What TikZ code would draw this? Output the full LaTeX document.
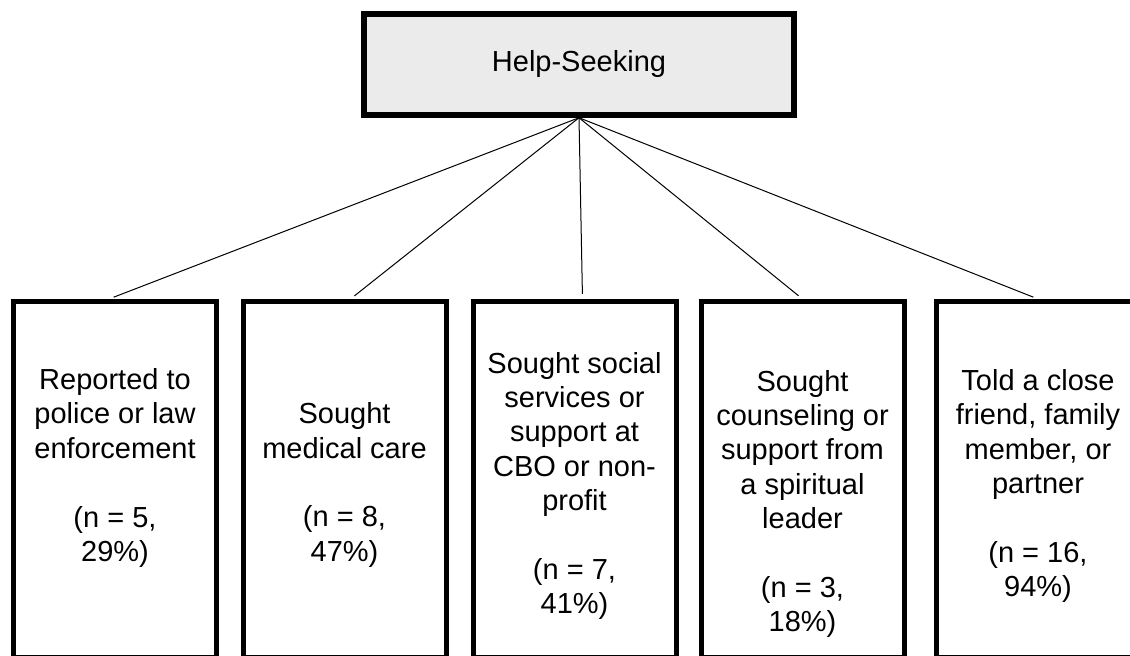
\documentclass[tikz,border=0pt]{standalone}
\usepackage{fontspec}
\setmainfont{Liberation Sans}
\tikzset{
    topbox/.style={draw=black, line width=2.75pt, fill=black!8, minimum width=215pt, minimum height=50.5pt, font=\fontsize{14.5}{17}\selectfont},
    catbox/.style={draw=black, line width=2.5pt, minimum width=101.5pt, minimum height=178.25pt},
    lbl/.style={align=center, font=\fontsize{14.5}{17.2}\selectfont, inner sep=0pt},
    link/.style={line width=0.5pt, shorten >=2.5pt}
}
\begin{document}
\begin{tikzpicture}[x=0.5pt, y=-0.5pt]
    \useasboundingbox (0,0) rectangle (1130,656);
    \node[topbox] (hs) at (579,64.5) {Help-Seeking};
    \node[catbox] (b1) at (115,479.75) {};
    \node[catbox] (b2) at (344.5,479.75) {};
    \node[catbox] (b3) at (574.5,479.75) {};
    \node[catbox] (b4) at (802.5,479.75) {};
    \node[catbox] (b5) at (1038,479.75) {};
    \node[lbl] (t1) at (115,468) {Reported to\\police or law\\enforcement\\[17.2pt](n = 5,\\29\%)};
    \node[lbl] (t2) at (344.5,485) {Sought\\medical care\\[17.2pt](n = 8,\\47\%)};
    \node[lbl] (t3) at (574.5,486) {Sought social\\services or\\support at\\CBO or non-\\profit\\[17.2pt](n = 7,\\41\%)};
    \node[lbl] (t4) at (802.5,504) {Sought\\counseling or\\support from\\a spiritual\\leader\\[17.2pt](n = 3,\\18\%)};
    \node[lbl] (t5) at (1038,486) {Told a close\\friend, family\\member, or\\partner\\[17.2pt](n = 16,\\94\%)};
    \draw[link] (hs.south) -- ([xshift=-3pt]b1.north);
    \draw[link] (hs.south) -- ([xshift=3pt]b2.north);
    \draw[link] (hs.south) -- ([xshift=4pt]b3.north);
    \draw[link] (hs.south) -- (b4.north);
    \draw[link] (hs.south) -- (b5.north);
\end{tikzpicture}
\end{document}
